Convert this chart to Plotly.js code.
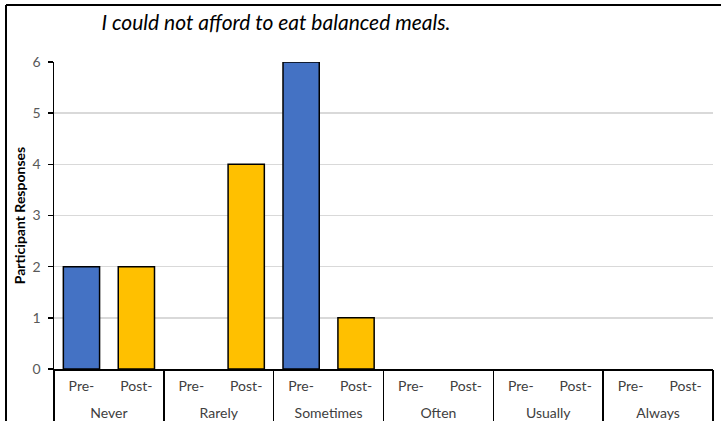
<!DOCTYPE html>
<html>
<head>
<meta charset="utf-8">
<script src="https://cdn.plot.ly/plotly-3.0.1.min.js"></script>
<style>
  html, body { margin: 0; padding: 0; background: #ffffff; }
  #chart { width: 721px; height: 421px; }
</style>
</head>
<body>
<div id="chart"></div>
<script>
// Survey answer groups and the two survey rounds
const categories = ['Never', 'Rarely', 'Sometimes', 'Often', 'Usually', 'Always'];
const rounds = ['Pre-', 'Post-'];
// Participant counts per answer group
const preValues = [2, 0, 6, 0, 0, 0];
const postValues = [2, 4, 1, 0, 0, 0];
const yTicks = [0, 1, 2, 3, 4, 5, 6];

const roundColors = {'Pre-': '#4472C4', 'Post-': '#FFC000'};

// One slot per (group, round) pair, laid out left to right
const slot = [], inner = [], vals = [], cols = [], edges = [];
categories.forEach((c, i) => {
  rounds.forEach((r, j) => {
    slot.push(i * rounds.length + j);
    inner.push(r);
    const v = r === 'Pre-' ? preValues[i] : postValues[i];
    vals.push(v);
    cols.push(roundColors[r]);
    edges.push(v > 0 ? 1.5 : 0);   // no outline on empty bars
  });
});

const font = 'Lato, "Noto Sans", sans-serif';
const tickGray = '#404040';

const bars = {
  type: 'bar',
  x: slot,
  y: vals,
  xaxis: 'x', yaxis: 'y',
  marker: { color: cols, line: { color: '#000000', width: edges } },
  width: 0.66,
  hoverinfo: 'y'
};

// Carries the group names onto the second (group-level) x axis
const groupAxisCarrier = {
  type: 'scatter',
  mode: 'markers',
  x: categories,
  y: categories.map(() => 0),
  xaxis: 'x2', yaxis: 'y',
  marker: { opacity: 0, size: 1 },
  hoverinfo: 'skip'
};

const layout = {
  width: 721,
  height: 421,
  margin: { l: 54, r: 8, t: 62, b: 52 },
  paper_bgcolor: '#ffffff',
  plot_bgcolor: '#ffffff',
  showlegend: false,
  title: {
    text: 'I could not afford to eat balanced meals.',
    font: { family: font, size: 21, style: 'italic', color: '#000000' },
    xref: 'container', yref: 'container',
    x: 276 / 721, xanchor: 'center',
    y: 1 - 23 / 421, yanchor: 'middle'
  },
  xaxis: {
    type: 'linear',
    range: [-0.5, slot.length - 0.5],
    tickvals: slot,
    ticktext: inner,
    showline: true, linecolor: '#000000', linewidth: 1.5,
    showgrid: false, zeroline: false,
    ticks: '',
    ticklabelstandoff: 4,
    tickfont: { family: font, size: 14, color: tickGray }
  },
  xaxis2: {
    type: 'category',
    categoryarray: categories,
    range: [-0.5, categories.length - 0.5],
    overlaying: 'x', anchor: 'y', side: 'bottom',
    showline: false, showgrid: false, zeroline: false,
    ticks: 'outside', tickson: 'boundaries',
    ticklen: 60, tickcolor: '#000000', tickwidth: 1.5,
    ticklabelstandoff: 34,
    tickfont: { family: font, size: 14, color: tickGray }
  },
  yaxis: {
    range: [0, 6],
    tickvals: yTicks,
    ticktext: yTicks.map(String),
    showline: true, linecolor: '#000000', linewidth: 1.5,
    ticks: 'outside', ticklen: 5, tickcolor: '#000000', tickwidth: 1.5,
    ticklabelstandoff: 4,
    showgrid: true, gridcolor: '#D9D9D9', gridwidth: 1.5,
    zeroline: false,
    tickfont: { family: font, size: 14, color: '#595959' },
    title: {
      text: '<b>Participant Responses</b>',
      font: { family: font, size: 14, color: '#000000' },
      standoff: 3
    }
  },
  shapes: [
    // chart frame: left and top edges
    { type: 'line', xref: 'paper', yref: 'paper',
      x0: (6 - 54) / 659, x1: (6 - 54) / 659, y0: -0.3, y1: (369 - 5) / 307,
      line: { color: '#000000', width: 2 } },
    { type: 'line', xref: 'paper', yref: 'paper',
      x0: (6 - 54) / 659, x1: (721 - 54) / 659, y0: (369 - 5) / 307, y1: (369 - 5) / 307,
      line: { color: '#000000', width: 2 } }
  ]
};

Plotly.newPlot('chart', [bars, groupAxisCarrier], layout, { displayModeBar: false, staticPlot: true });
</script>
</body>
</html>
